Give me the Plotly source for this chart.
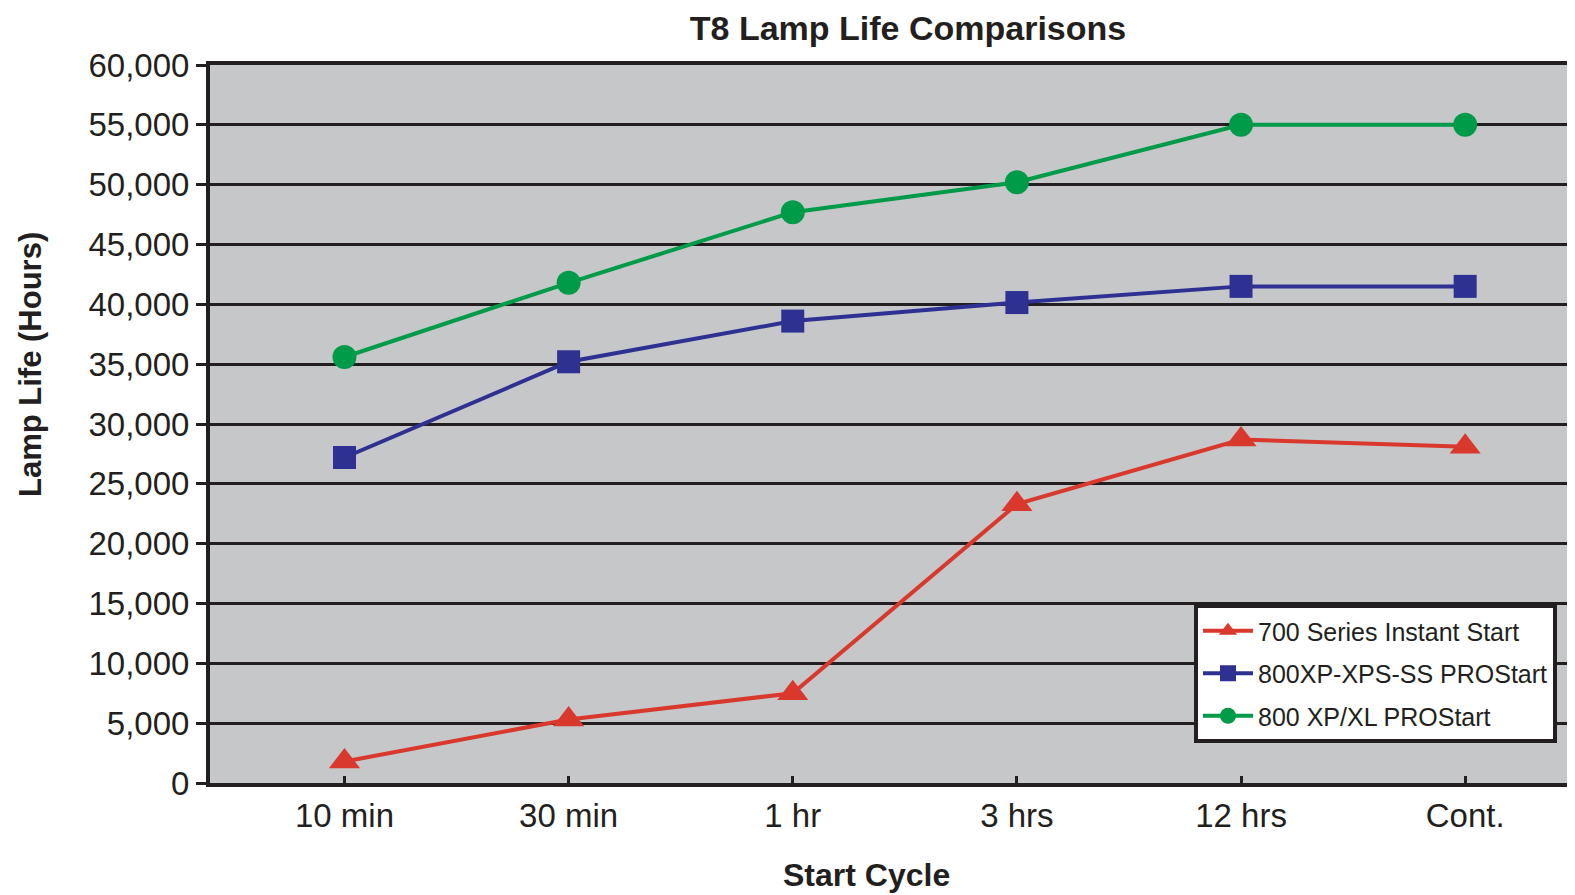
import plotly.graph_objects as go

categories = ["10 min", "30 min", "1 hr", "3 hrs", "12 hrs", "Cont."]
series_names = ["700 Series Instant Start", "800XP-XPS-SS PROStart", "800 XP/XL PROStart"]
red_700 = [1800, 5300, 7500, 23300, 28700, 28100]
blue_800xps = [27200, 35200, 38600, 40150, 41500, 41500]
green_800xl = [35600, 41800, 47700, 50200, 55000, 55000]
y_ticks = [0, 5000, 10000, 15000, 20000, 25000, 30000, 35000, 40000, 45000, 50000, 55000, 60000]

FONT = "Liberation Sans, Arial, Helvetica, sans-serif"
INK = "#231F20"

# page body has an 8px margin, so the figure is laid out 8px up/left
OFF = 8
W, H = 1575 - OFF, 895 - OFF
L, R, T = 210 - OFF, 0, 65 - OFF
PLOT_BOTTOM = 783 - OFF
B = H - PLOT_BOTTOM
PW, PH = W - L - R, PLOT_BOTTOM - T

fig = go.Figure()
fig.add_trace(go.Scatter(x=categories, y=red_700, name=series_names[0], mode="lines+markers",
                         legendgroup="a",
                         line=dict(color="#D9392D", width=4),
                         marker=dict(symbol="triangle-up", size=27, color="#D9392D")))
fig.add_trace(go.Scatter(x=categories, y=blue_800xps, name=series_names[1], mode="lines+markers",
                         legendgroup="b",
                         line=dict(color="#2E3192", width=4),
                         marker=dict(symbol="square", size=23, color="#2E3192")))
fig.add_trace(go.Scatter(x=categories, y=green_800xl, name=series_names[2], mode="lines+markers",
                         legendgroup="c",
                         line=dict(color="#009B48", width=4),
                         marker=dict(symbol="circle", size=24, color="#009B48")))

fig.update_layout(
    width=W, height=H,
    margin=dict(l=L, r=R, t=T, b=B, autoexpand=False),
    paper_bgcolor="white", plot_bgcolor="#C6C7C9",
    font=dict(family=FONT, color=INK),
    title=dict(text="<b>T8 Lamp Life Comparisons</b>", x=(908 - OFF)/W, xanchor="center",
               y=1-(28 - OFF)/H, yanchor="middle", yref="container",
               font=dict(size=34, family=FONT, color=INK)),
    showlegend=True,
    legend=dict(x=(1194 - OFF - L)/PW, y=(783 - 604)/PH, xanchor="left", yanchor="top",
                bgcolor="white", bordercolor=INK, borderwidth=4,
                font=dict(size=25, family=FONT, color=INK),
                itemwidth=50, tracegroupgap=7),
    annotations=[
        dict(text="<b>Start Cycle</b>", xref="paper", yref="paper",
             x=(866 - OFF - L)/PW, y=-(875-783)/PH, xanchor="center", yanchor="middle",
             showarrow=False, font=dict(size=32, family=FONT, color=INK)),
        dict(text="<b>Lamp Life (Hours)</b>", xref="paper", yref="paper",
             x=(30 - OFF - L)/PW, y=(783-365)/PH, xanchor="center", yanchor="middle",
             textangle=-90, showarrow=False, font=dict(size=31, family=FONT, color=INK)),
    ],
)
fig.update_xaxes(type="category", range=[-0.6, 5.49], automargin=False,
                 showline=True, linecolor=INK, linewidth=4, mirror=True,
                 ticks="inside", ticklen=7, tickwidth=3, tickcolor=INK,
                 showgrid=False, zeroline=False,
                 tickfont=dict(size=33, family=FONT, color=INK))
fig.update_yaxes(range=[0, 60000], tickvals=y_ticks, tickformat=",d", automargin=False,
                 showline=True, linecolor=INK, linewidth=4,
                 ticks="outside", ticklen=10, tickwidth=3, tickcolor=INK,
                 showgrid=True, gridcolor=INK, gridwidth=3, zeroline=False,
                 tickfont=dict(size=33, family=FONT, color=INK))

fig.write_html("out.html")
